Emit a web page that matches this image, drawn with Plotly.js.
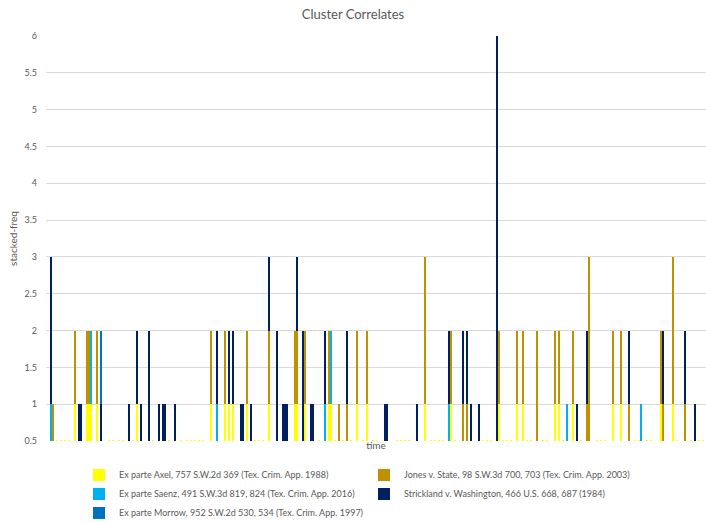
<!DOCTYPE html>
<html>
<head>
<meta charset="utf-8">
<script src="https://cdn.plot.ly/plotly-3.0.1.min.js"></script>
<style>html,body{margin:0;padding:0;background:#fff;}#chart{width:706px;height:523px;}</style>
</head>
<body>
<div id="chart"></div>
<script>
// Series names (legend labels)
const seriesNames = [
  "Ex parte Axel, 757 S.W.2d 369 (Tex. Crim. App. 1988)",
  "Jones v. State, 98 S.W.3d 700, 703 (Tex. Crim. App. 2003)",
  "Ex parte Saenz, 491 S.W.3d 819, 824 (Tex. Crim. App. 2016)",
  "Strickland v. Washington, 466 U.S. 668, 687 (1984)",
  "Ex parte Morrow, 952 S.W.2d 530, 534 (Tex. Crim. App. 1997)"
];
const seriesColors = ["#FFFF00", "#BF9000", "#00B0F0", "#002060", "#0070C0"];

// time index -> frequency, per series
const axelTime = [5,7,9,11,14,20,21,22,25,31,33,36,38,43,45,53,61,67,70,72,74,76,78,82,89,91,93,100,104,106,108,111,124,125,129,136,141,142,144,148,152,155,158,160,163,165,175,177,179,181,189,192,194,196,198,202,204,218,220,222,226,228,230,232,235,238,240,242,248,250,254,256,258,263,267,275,277,279,283,287,294,296,300,302,307,313,315,322,326,328];
const axelFreq = [0.52,0.52,0.52,0.52,1,1,1,1,1,0.52,0.52,0.52,0.52,0.52,1,0.52,0.52,0.52,0.52,0.52,0.52,0.52,0.52,1,1,1,1,1,0.52,0.52,0.52,1,1,1,1,0.52,1,1,0.52,0.52,0.52,1,0.52,1,0.52,0.52,0.52,0.52,0.52,0.52,1,0.52,0.52,0.52,0.52,1,0.52,0.52,0.52,0.52,1,0.52,0.52,0.52,1,1,0.52,0.52,0.52,0.52,1,1,0.52,1,0.52,0.52,0.52,0.52,1,1,0.52,0.52,0.52,0.52,1,1,0.52,0.52,0.52,0.52];

const jonesTime = [3,14,20,21,25,82,89,100,111,124,125,129,141,146,150,155,160,189,202,208,210,226,235,238,245,254,256,263,270,271,283,287,291,307,308,313,319];
const jonesFreq = [1,1,1,1,1,1,1,1,1,1,1,1,1,1,1,1,1,2,1,1,1,1,1,1,2,1,1,1,1,3,1,1,1,1,1,2,1];

const saenzTime = [2,22,85,139,142,201,260,297];
const saenzFreq = [1,1,1,1,1,1,1,1];

const stricklandTime = [2,16,17,27,41,45,47,51,56,58,59,64,85,91,93,97,98,102,111,115,118,119,120,125,128,132,133,139,150,169,170,185,201,208,210,212,216,225,265,270,291,308,319,324];
const stricklandFreq = [2,1,1,1,1,1,1,2,1,1,1,1,1,1,1,1,1,1,1,2,1,1,1,1,2,1,1,1,1,1,1,1,1,1,1,1,1,6,1,1,1,1,1,1];

const morrowTime = [27];
const morrowFreq = [1];

const yTicks = [0.5,1,1.5,2,2.5,3,3.5,4,4.5,5,5.5,6];
const timeSteps = 330;

const seriesTime = [axelTime, jonesTime, saenzTime, stricklandTime, morrowTime];
const seriesFreq = [axelFreq, jonesFreq, saenzFreq, stricklandFreq, morrowFreq];

const traces = seriesNames.map((name, i) => ({
  type: 'bar',
  name: name,
  x: seriesTime[i],
  y: seriesFreq[i],
  width: 0.6,
  marker: {color: seriesColors[i], line: {width: 0}},
  hoverinfo: 'x+y+name'
}));

const fontFam = 'Lato, "Open Sans", sans-serif';
const layout = {
  width: 706, height: 523,
  paper_bgcolor: '#ffffff', plot_bgcolor: '#ffffff',
  barmode: 'stack',
  font: {family: fontFam, color: '#595959', size: 9},
  margin: {l: 46, r: 0, t: 36, b: 82, pad: 0, autoexpand: false},
  title: {text: 'Cluster Correlates', font: {family: fontFam, size: 13, color: '#595959'},
          x: 0.5, xanchor: 'center', y: 0.973, yref: 'container', yanchor: 'middle'},
  xaxis: {range: [-0.5, timeSteps - 0.5], showticklabels: false, showgrid: false, zeroline: false,
          showline: false, ticks: '',
          title: {text: 'time', font: {family: fontFam, size: 10, color: '#595959'}, standoff: 0}},
  yaxis: {range: [0.5, 6], tickvals: yTicks, ticktext: yTicks.map(String), showgrid: true,
          gridcolor: '#d9d9d9', gridwidth: 1, zeroline: false, showline: false, ticks: '',
          ticklabelstandoff: 8,
          tickfont: {family: fontFam, size: 9, color: '#595959'},
          title: {text: 'stacked-freq', font: {family: fontFam, size: 10, color: '#595959'}, standoff: 4}},
  showlegend: true,
  legend: {orientation: 'h', x: 0.05, xanchor: 'left', y: -0.048, yanchor: 'top',
           entrywidth: 240, entrywidthmode: 'pixels', traceorder: 'normal', itemwidth: 30,
           font: {family: fontFam, size: 9, color: '#595959'}, bgcolor: 'rgba(0,0,0,0)'}
};

Plotly.newPlot('chart', traces, layout, {displayModeBar: false, staticPlot: true});
</script>
</body>
</html>
